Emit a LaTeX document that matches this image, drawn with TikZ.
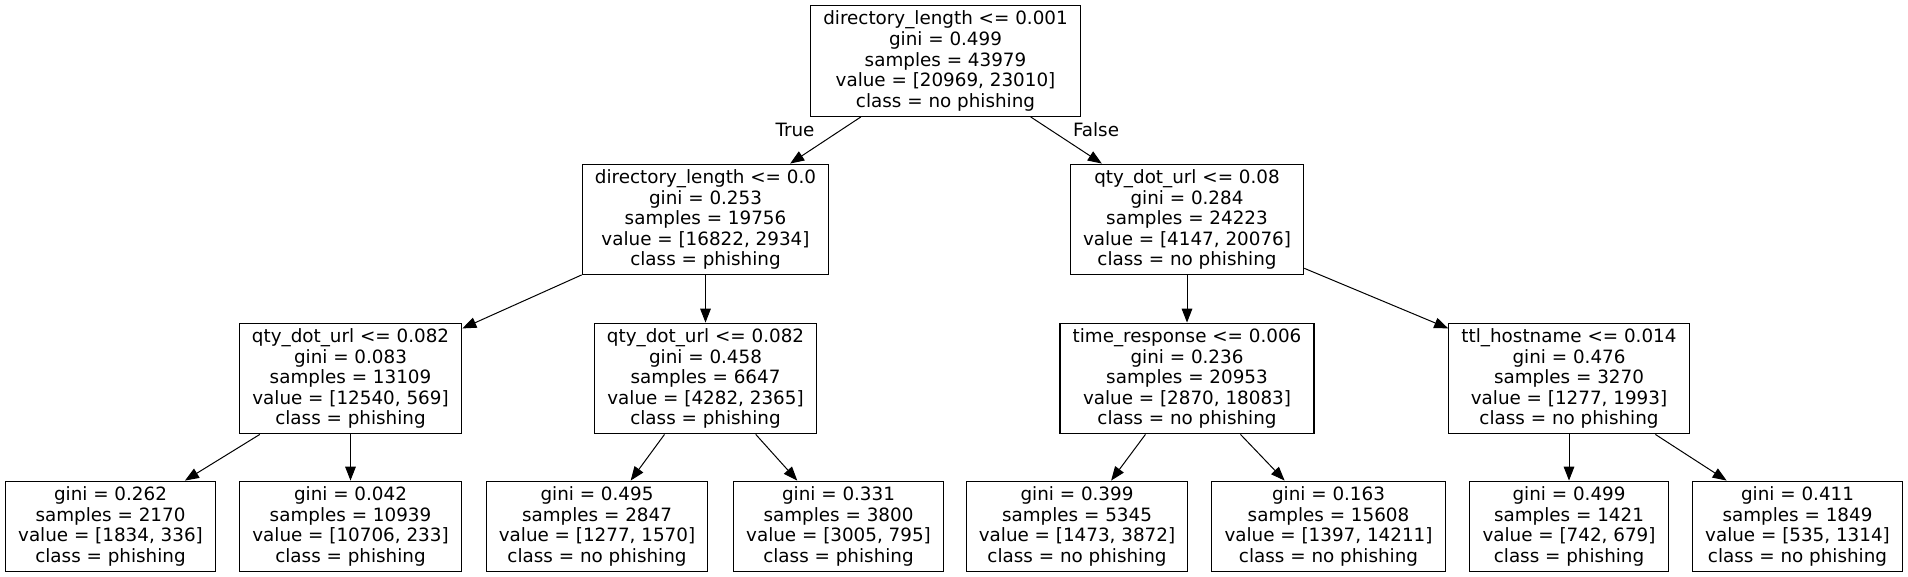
\documentclass[tikz,border=0pt]{standalone}
\usepackage{fontspec}
\setmainfont{DejaVu Sans}
\usetikzlibrary{arrows.meta, positioning}

\tikzset{
  split/.style={draw, line width=0.9pt, rectangle, align=center, inner xsep=9.5pt, minimum height=83pt, font=\fontsize{13.75}{15.4}\selectfont},
  leaf/.style={split, minimum height=68pt},
  branch/.style={-{Triangle[length=10.5pt,width=8pt]}, line width=0.75pt},
  edgetext/.style={font=\fontsize{13.75}{15.4}\selectfont, inner sep=0pt}
}

\begin{document}
\begin{tikzpicture}[x=0.75pt, y=-0.75pt]
    \useasboundingbox (0,0) rectangle (1908,577);
    % decision nodes
    \node[split] (root) at (945.5,61) {directory\_length <= 0.001\\gini = 0.499\\samples = 43979\\value = [20969, 23010]\\class = no phishing};
    \node[split] (dirlen) at (705.5,219.5) {directory\_length <= 0.0\\gini = 0.253\\samples = 19756\\value = [16822, 2934]\\class = phishing};
    \node[split] (qtydot) at (1187,219.5) {qty\_dot\_url <= 0.08\\gini = 0.284\\samples = 24223\\value = [4147, 20076]\\class = no phishing};
    \node[split] (qtya) at (350.5,378.5) {qty\_dot\_url <= 0.082\\gini = 0.083\\samples = 13109\\value = [12540, 569]\\class = phishing};
    \node[split] (qtyb) at (705.5,378.5) {qty\_dot\_url <= 0.082\\gini = 0.458\\samples = 6647\\value = [4282, 2365]\\class = phishing};
    \node[split] (timeresp) at (1187,378.5) {time\_response <= 0.006\\gini = 0.236\\samples = 20953\\value = [2870, 18083]\\class = no phishing};
    \node[split] (ttl) at (1569,378.5) {ttl\_hostname <= 0.014\\gini = 0.476\\samples = 3270\\value = [1277, 1993]\\class = no phishing};
    % leaves
    \node[leaf] (leafa) at (110.5,526.5) {gini = 0.262\\samples = 2170\\value = [1834, 336]\\class = phishing};
    \node[leaf] (leafb) at (350.5,526.5) {gini = 0.042\\samples = 10939\\value = [10706, 233]\\class = phishing};
    \node[leaf] (leafc) at (597,526.5) {gini = 0.495\\samples = 2847\\value = [1277, 1570]\\class = no phishing};
    \node[leaf] (leafd) at (838.5,526.5) {gini = 0.331\\samples = 3800\\value = [3005, 795]\\class = phishing};
    \node[leaf] (leafe) at (1077,526.5) {gini = 0.399\\samples = 5345\\value = [1473, 3872]\\class = no phishing};
    \node[leaf] (leaff) at (1328.5,526.5) {gini = 0.163\\samples = 15608\\value = [1397, 14211]\\class = no phishing};
    \node[leaf] (leafg) at (1569,526.5) {gini = 0.499\\samples = 1421\\value = [742, 679]\\class = phishing};
    \node[leaf] (leafh) at (1797.5,526.5) {gini = 0.411\\samples = 1849\\value = [535, 1314]\\class = no phishing};
    % edge labels
    \node[edgetext] (truelbl) at (795,130) {True};
    \node[edgetext] (falselbl) at (1096,130) {False};
    % edges
    \draw[branch] (root) -- (dirlen);
    \draw[branch] (root) -- (qtydot);
    \draw[branch] (dirlen) -- (qtya);
    \draw[branch] (dirlen) -- (qtyb);
    \draw[branch] (qtydot) -- (timeresp);
    \draw[branch] (qtydot) -- (ttl);
    \draw[branch] (qtya) -- (leafa);
    \draw[branch] (qtya) -- (leafb);
    \draw[branch] (qtyb) -- (leafc);
    \draw[branch] (qtyb) -- (leafd);
    \draw[branch] (timeresp) -- (leafe);
    \draw[branch] (timeresp) -- (leaff);
    \draw[branch] (ttl) -- (leafg);
    \draw[branch] (ttl) -- (leafh);
\end{tikzpicture}
\end{document}
